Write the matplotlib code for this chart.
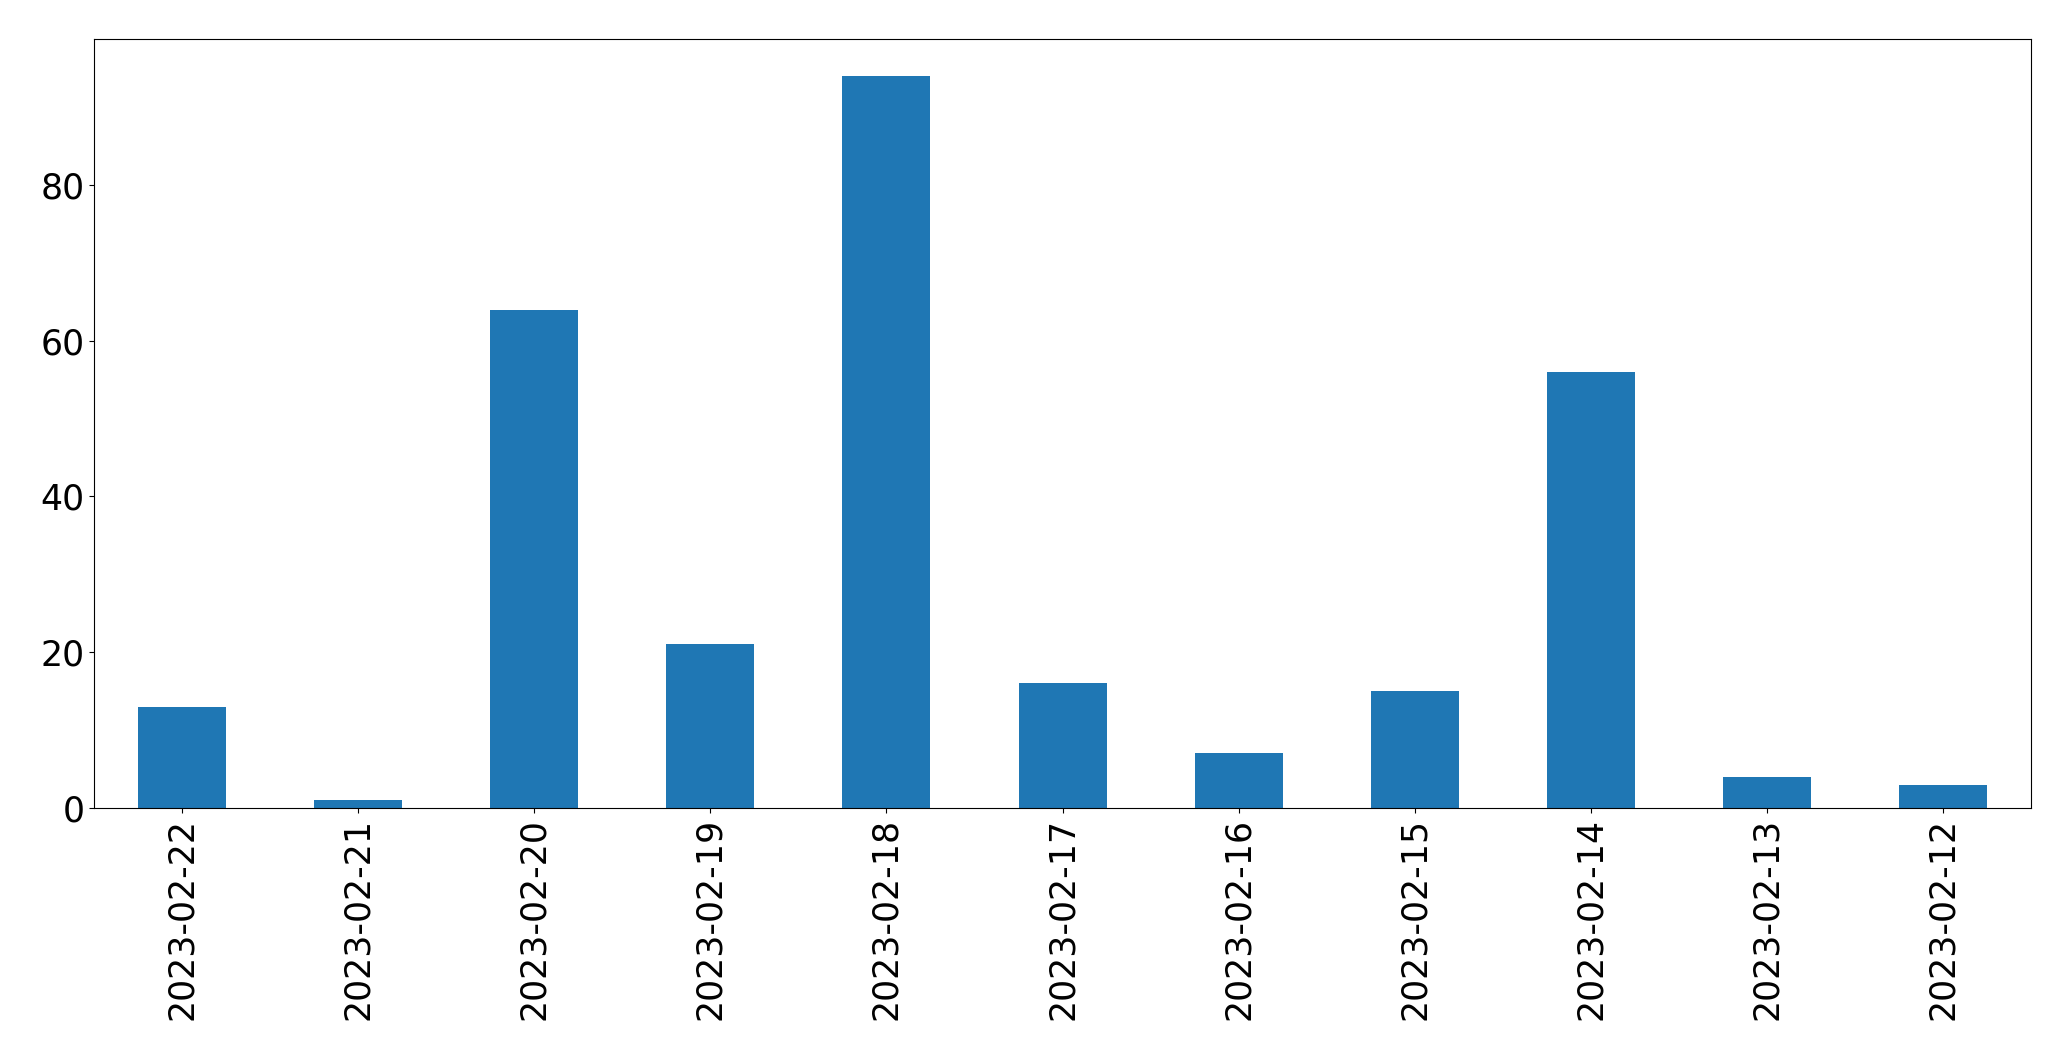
import matplotlib
matplotlib.use('Agg')
import matplotlib.pyplot as plt
import pandas as pd

dates = ['2023-02-22', '2023-02-21', '2023-02-20', '2023-02-19', '2023-02-18',
         '2023-02-17', '2023-02-16', '2023-02-15', '2023-02-14', '2023-02-13',
         '2023-02-12']
counts = [13, 1, 64, 21, 94, 16, 7, 15, 56, 4, 3]

s = pd.Series(counts, index=dates)

fig, ax = plt.subplots(figsize=(20.71, 10.61), dpi=100)
s.plot(kind='bar', ax=ax, color='#1f77b4', width=0.5)
ax.tick_params(axis='both', labelsize=25)
ax.set_xlabel('')

plt.subplots_adjust(left=0.0454, right=0.9807, top=0.963, bottom=0.2385)
plt.savefig('out.png', dpi=100)
